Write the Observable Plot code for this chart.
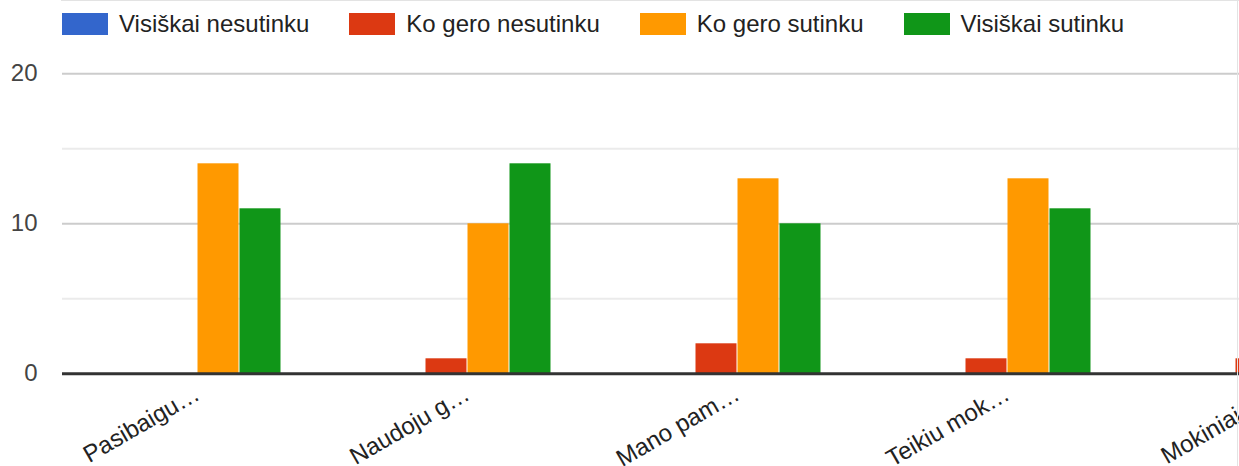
<!DOCTYPE html>
<html>
<head>
<meta charset="utf-8">
<script src="https://cdn.jsdelivr.net/npm/d3@7"></script>
<script src="https://cdn.jsdelivr.net/npm/@observablehq/plot@0.6"></script>
<style>
  html, body { margin: 0; padding: 0; background: #fff; overflow: hidden; }
  #wrap { position: relative; width: 1239px; height: 466px; overflow: hidden; font-family: "Liberation Sans", Arial, sans-serif; }
  #legend { position: relative; height: 48px; display: flex; align-items: center; padding-left: 62px; gap: 40px; box-sizing: border-box; }
  .item { display: flex; align-items: center; font-size: 24px; color: #222; margin-top: 0px; white-space: nowrap; }
  .sw { width: 46px; height: 22px; margin-right: 11px; flex: none; }
  #topline { position: absolute; left: 61px; right: 0; top: 0; height: 1px; background: #e3e3e3; }
  #rightline { position: absolute; left: 1237px; top: 0; bottom: 0; width: 1px; background: #e3e3e3; }
  #chart { width: 1412px; }
  #chart svg { display: block; overflow: visible; max-width: none !important; width: 1412px; height: 418px; }
  #chart [aria-label^="fx-axis"] text { font-size: 24px; fill: #222; }
  #chart [aria-label^="y-axis"] text { font-size: 24px; fill: #444; }
</style>
</head>
<body>
<div id="wrap">
  <div id="legend"></div>
  <div id="chart"></div>
  <div id="topline"></div>
  <div id="rightline"></div>
</div>
<script>
const categories = ["Pasibaigu…", "Naudoju g…", "Mano pam…", "Teikiu mok…", "Mokiniai g…"];
const series = ["Visiškai nesutinku", "Ko gero nesutinku", "Ko gero sutinku", "Visiškai sutinku"];
const colors = ["#3366cc", "#dc3912", "#ff9900", "#109618"];
const visiskaiNesutinku = [0, 0, 0, 0, 0];
const koGeroNesutinku = [0, 1, 2, 1, 1];
const koGeroSutinku = [14, 10, 13, 13, 12];
const visiskaiSutinku = [11, 14, 10, 11, 12];
const yTicks = [0, 10, 20];
const minorTicks = [5, 15];

const seriesValues = [visiskaiNesutinku, koGeroNesutinku, koGeroSutinku, visiskaiSutinku];
const rows = [];
categories.forEach((c, i) => {
  series.forEach((s, j) => rows.push({cat: c, series: s, value: seriesValues[j][i]}));
});

const legend = document.getElementById("legend");
series.forEach((s, i) => {
  const it = document.createElement("div");
  it.className = "item";
  it.innerHTML = `<span class="sw" style="background:${colors[i]}"></span><span>${s}</span>`;
  legend.appendChild(it);
});

const chart = Plot.plot({
  width: 1412,
  height: 418,
  marginLeft: 61,
  marginRight: 0,
  marginTop: 25.3,
  marginBottom: 92.7,
  style: { fontFamily: "'Liberation Sans', Arial, sans-serif", background: "transparent", overflow: "visible" },
  fx: { domain: categories, padding: 0, label: null, tickSize: 0, tickRotate: -30, tickPadding: 18 },
  x: { domain: series, paddingInner: 0, paddingOuter: 51 / 42, axis: null },
  y: { domain: [0, 20], ticks: yTicks, tickSize: 0, tickPadding: 25, label: null, tickFormat: d => String(d) },
  color: { domain: series, range: colors },
  marks: [
    Plot.ruleY(minorTicks, { stroke: "#ebebeb", strokeWidth: 2 }),
    Plot.ruleY([10, 20], { stroke: "#cccccc", strokeWidth: 2 }),
    Plot.barY(rows, { fx: "cat", x: "series", y: "value", fill: "series", insetLeft: 0.5, insetRight: 0.5 }),
    Plot.ruleY([0], { stroke: "#333333", strokeWidth: 3 })
  ]
});
document.getElementById("chart").appendChild(chart);
</script>
</body>
</html>
